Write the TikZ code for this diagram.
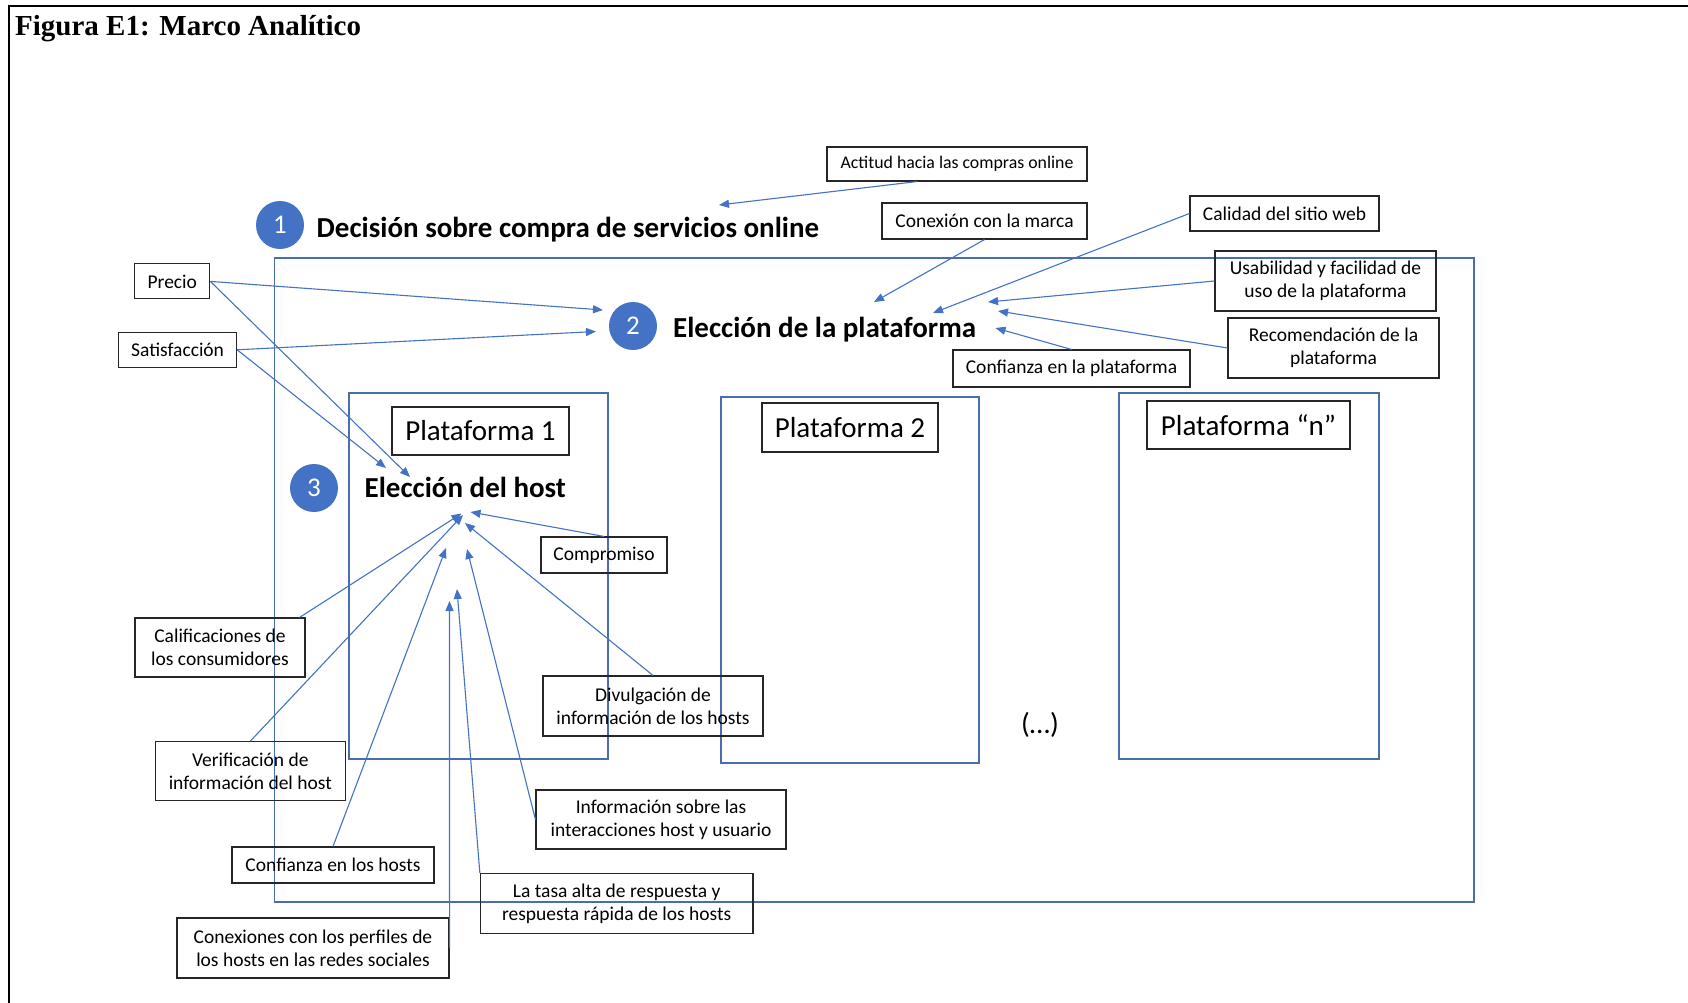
\documentclass[tikz,border=0pt]{standalone}
\usepackage{fontspec}
\setmainfont{Carlito}
\newfontfamily\titlefont{Liberation Serif}
\usetikzlibrary{arrows.meta}
\definecolor{obl}{HTML}{4472C4}
\definecolor{boxbl}{HTML}{4A6DB0}
\tikzset{
 lbl/.style={draw=black!85, line width=1.1pt, inner sep=0pt, align=center, font=\fontsize{19.5}{23}\selectfont},
 plat/.style={draw=boxbl, line width=1.3pt, inner sep=0pt},
 platlbl/.style={draw=black!85, line width=1.1pt, inner sep=0pt, font=\fontsize{29}{34}\selectfont},
 num/.style={circle, fill=obl, text=white, inner sep=0pt, minimum size=48pt, font=\fontsize{27}{30}\selectfont},
 head/.style={anchor=base west, inner sep=0pt, font=\fontsize{29}{34}\selectfont\bfseries},
 arr/.style={draw=obl, line width=1.1pt, -{Triangle[length=10pt,width=8pt]}},
}
\begin{document}
\begin{tikzpicture}[x=1pt,y=-1pt]
\useasboundingbox (0,0) rectangle (1688,1003);
\fill[white] (0,0) rectangle (1688,1003);
\draw[line width=2.5pt] (1688,6) -- (9,6) -- (9,1003);
\node[anchor=base west, inner sep=0pt, font=\titlefont\bfseries\fontsize{29}{34}\selectfont] (title) at (15,36) {Figura E1: Marco Analítico};

% containers
\node[plat, minimum width=1199.5, minimum height=644] (big) at (874.25,580) {};
\node[plat, minimum width=259, minimum height=366] (p1) at (478.5,576) {};
\node[plat, minimum width=258, minimum height=366] (p2) at (850,580) {};
\node[plat, minimum width=260, minimum height=366] (pn) at (1249,576) {};

% headings
\node[num] (c1) at (280,225) {1};
\node[head] (h1) at (316.5,237) {Decisión sobre compra de servicios online};
\node[num] (c2) at (633,326) {2};
\node[head] (h2) at (673,337) {Elección de la plataforma};
\node[num] (c3) at (314,488) {3};
\node[head] (h3) at (364.5,497) {Elección del host};

% platform labels
\node[platlbl, minimum width=177, minimum height=48] (pl1) at (480.5,431) {Plataforma 1};
\node[platlbl, minimum width=176, minimum height=49] (pl2) at (850,427.5) {Plataforma 2};
\node[platlbl, minimum width=203, minimum height=48] (pln) at (1248.5,425) {Plataforma “n”};
\node[inner sep=0pt, font=\fontsize{29}{34}\selectfont] (dots) at (1040,725) {(…)};

% factor labels
\node[lbl, minimum width=260, minimum height=34, font=\fontsize{17.8}{21}\selectfont] (act) at (957,164) {Actitud hacia las compras online};
\node[lbl, minimum width=205, minimum height=36] (marca) at (984.5,221) {Conexión con la marca};
\node[lbl, minimum width=189, minimum height=35] (cal) at (1284.5,213.5) {Calidad del sitio web};
\node[lbl, minimum width=221, minimum height=60] (usa) at (1325.5,281) {Usabilidad y facilidad de\\uso de la plataforma};
\node[lbl, minimum width=211, minimum height=60] (rec) at (1333.5,348) {Recomendación de la\\plataforma};
\node[lbl, minimum width=237, minimum height=37] (confp) at (1071.5,368.5) {Confianza en la plataforma};
\node[lbl, minimum width=75, minimum height=35] (precio) at (172.3,281.4) {Precio};
\node[lbl, minimum width=118, minimum height=34.5] (sat) at (177.6,349.8) {Satisfacción};
\node[lbl, minimum width=126, minimum height=36] (comp) at (604,555) {Compromiso};
\node[lbl, minimum width=170, minimum height=59] (calif) at (220,647.5) {Calificaciones de\\los consumidores};
\node[lbl, minimum width=220, minimum height=60] (div) at (653,706) {Divulgación de\\información de los hosts};
\node[lbl, minimum width=189.5, minimum height=59] (verif) at (250.3,771.2) {Verificación de\\información del host};
\node[lbl, minimum width=250, minimum height=59] (info) at (661,819.5) {Información sobre las\\interacciones host y usuario};
\node[lbl, minimum width=202, minimum height=36] (confh) at (333,865) {Confianza en los hosts};
\node[lbl, minimum width=272.6, minimum height=59.6] (tasa) at (616.7,903.5) {La tasa alta de respuesta y\\respuesta rápida de los hosts};
\node[lbl, minimum width=272, minimum height=60] (conex) at (313,948) {Conexiones con los perfiles de\\los hosts en las redes sociales};

% arrow tips
\coordinate (tact) at (719,205);
\coordinate (tmarca) at (874,302);
\coordinate (tcal) at (933,313);
\coordinate (tusa) at (988,302);
\coordinate (trec) at (998,311);
\coordinate (tconfp) at (995.5,328);
\coordinate (tprecio2) at (603,310);
\coordinate (tsat2) at (596,331.5);
\coordinate (tprecio3) at (410,477);
\coordinate (tsat3) at (386,468);
\coordinate (tcomp) at (470.5,512);
\coordinate (tcalif) at (461.5,513.5);
\coordinate (tverif) at (463,515);
\coordinate (tdiv) at (465,523);
\coordinate (tconfh) at (446,548);
\coordinate (tinfo) at (467,549);
\coordinate (ttasa) at (457,589);
\coordinate (tconex) at (449.5,601);

% connectors
\draw[arr] ([xshift=-40pt]act.south) -- (tact);
\draw[arr] (marca.south) -- (tmarca);
\draw[arr] (cal.west) -- (tcal);
\draw[arr] (usa.west) -- (tusa);
\draw[arr] (rec.west) -- (trec);
\draw[arr] (confp.north) -- (tconfp);
\draw[arr] (precio.east) -- (tprecio2);
\draw[arr] (sat.east) -- (tsat2);
\draw[arr] (precio.east) -- (tprecio3);
\draw[arr] (sat.east) -- (tsat3);
\draw[arr] (comp.north) -- (tcomp);
\draw[arr] ([xshift=-6pt]calif.north east) -- (tcalif);
\draw[arr] (verif.north) -- (tverif);
\draw[arr] (div.north) -- (tdiv);
\draw[arr] (confh.north) -- (tconfh);
\draw[arr] (info.west) -- (tinfo);
\draw[arr] (tasa.north west) -- (ttasa);
\draw[arr] (conex.east) -- (tconex);
\end{tikzpicture}
\end{document}
